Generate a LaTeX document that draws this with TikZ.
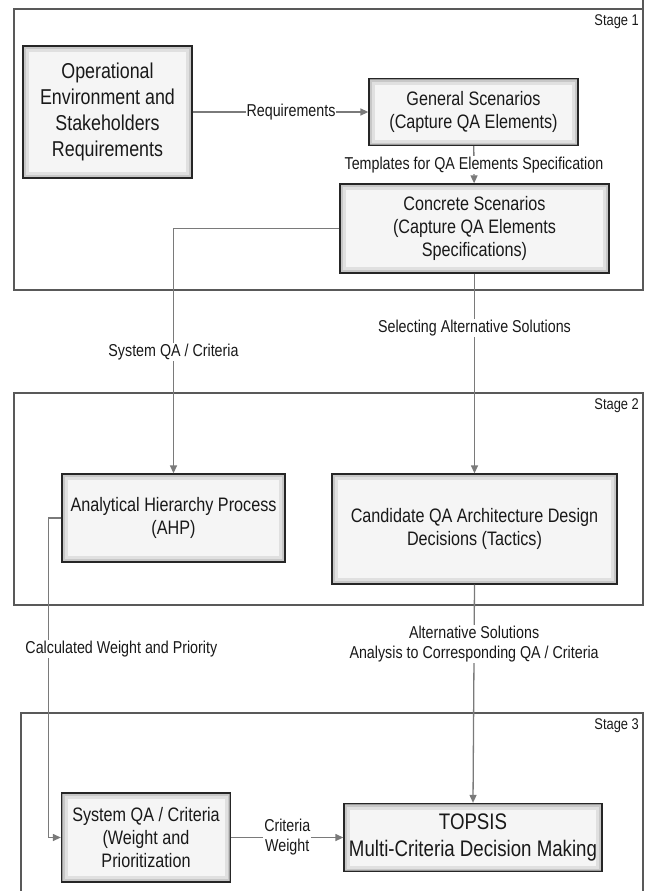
\documentclass[tikz,border=0pt]{standalone}
\usepackage{fontspec}
\setmainfont{Liberation Sans}[FakeStretch=0.83]
\usepackage{tikz}
\usetikzlibrary{arrows.meta, positioning}

\newcommand{\bigfont}{\fontsize{21.5}{26}\selectfont}
\newcommand{\boxfont}{\fontsize{19.5}{23}\selectfont}
\newcommand{\topfont}{\fontsize{22.5}{27}\selectfont}
\newcommand{\lblfont}{\fontsize{17.2}{20}\selectfont}
\newcommand{\stagefont}{\fontsize{15.5}{18}\selectfont}

\tikzset{
  qabox/.style={draw=black!85, line width=1.3pt, fill=black!4, align=center,
    text=black!90, inner sep=2pt,
    path picture={
      \draw[black!12, line width=12pt] (path picture bounding box.south west) rectangle (path picture bounding box.north east);
      \draw[black!22, line width=6pt] (path picture bounding box.south west) rectangle (path picture bounding box.north east);
      \draw[black!40, line width=2.5pt] (path picture bounding box.south west) rectangle (path picture bounding box.north east);
    }},
  flow/.style={draw=black!52, line width=1.3pt, -{Triangle[length=8pt,width=7pt]}},
  lbl/.style={fill=white, inner sep=1pt, text=black!90, font=\lblfont, align=center},
  stage/.style={draw=black!65, line width=1.1pt},
  stagelbl/.style={anchor=north east, inner sep=2pt, text=black!90, font=\stagefont}
}

\begin{document}
\begin{tikzpicture}[x=1pt, y=-1pt]
	\useasboundingbox (0,0) rectangle (649,891);
	
	% Stage frames
	\draw[stage] (14,9) rectangle (643,290);
	\draw[stage] (643,0) -- (643,9);
	\draw[stage] (14,393) rectangle (643,605);
	\draw[stage] (21,891) -- (21,713) -- (643,713) -- (643,891);
	\node[stagelbl] (st1) at (641,12) {Stage 1};
	\node[stagelbl] (st2) at (641,396) {Stage 2};
	\node[stagelbl] (st3) at (641,716) {Stage 3};
	
	% Stage 1 boxes
	\node[qabox, minimum width=169, minimum height=132, font=\bigfont] (openv) at (107.5,112)
		{Operational\\Environment and\\Stakeholders\\Requirements};
	\node[qabox, minimum width=209, minimum height=67, font=\boxfont] (gensc) at (473.5,112)
		{General Scenarios\\(Capture QA Elements)};
	\node[qabox, minimum width=269, minimum height=89, font=\boxfont] (consc) at (474.5,228.5)
		{Concrete Scenarios\\(Capture QA Elements\\Specifications)};
	
	% Stage 2 boxes
	\node[qabox, minimum width=223, minimum height=88, font=\boxfont] (ahp) at (173.5,518)
		{Analytical Hierarchy Process\\(AHP)};
	\node[qabox, minimum width=285, minimum height=110, font=\boxfont] (cand) at (474.5,529)
		{Candidate QA Architecture Design\\Decisions (Tactics)};
	
	% Stage 3 boxes
	\node[qabox, minimum width=169, minimum height=89, font=\boxfont] (sysqa) at (146,837.5)
		{System QA / Criteria\\(Weight and\\Prioritization};
	\node[qabox, minimum width=258, minimum height=68, font=\topfont] (topsis) at (473,837.5)
		{TOPSIS\\Multi-Criteria Decision Making};
	
	% Connectors
	\draw[flow] (openv) -- node[lbl, pos=0.56] {Requirements} (gensc);
	\draw[flow] (gensc) -- node[lbl] {Templates for QA Elements Specification} (consc);
	\draw[flow] (consc.west) -| node[lbl, pos=0.752] {System QA / Criteria} (ahp.north);
	\draw[flow] (consc.south) -- node[lbl, pos=0.27] {Selecting Alternative Solutions} (cand.north);
	\draw[flow] (ahp.west) -- ++(-13,0) |- node[lbl, pos=0.205, xshift=73] {Calculated Weight and Priority} (sysqa.west);
	\draw[flow] (cand.south) -- node[lbl, pos=0.27] {Alternative Solutions\\Analysis to Corresponding QA / Criteria} (topsis.north);
	\draw[flow] (sysqa) -- node[lbl] {Criteria\\Weight} (topsis);
\end{tikzpicture}
\end{document}
